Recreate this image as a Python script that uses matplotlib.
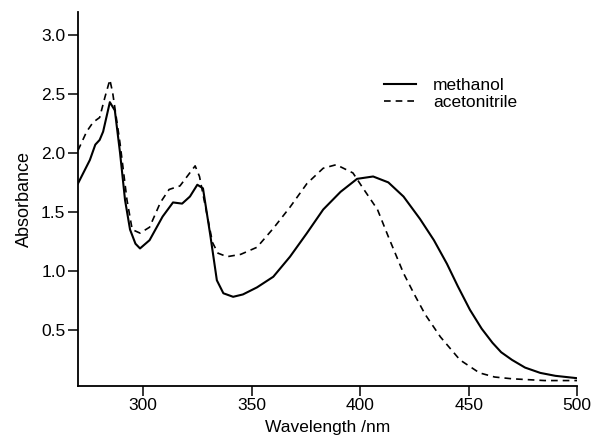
import numpy as np
import matplotlib.pyplot as plt

plt.rcParams['font.family'] = ['Liberation Sans', 'DejaVu Sans']

# methanol spectrum
wl_meoh = [270, 275.5, 278, 280, 281.6, 284.7, 287, 289.4, 291.7, 294, 296.5, 298.6,
           303, 309, 313.8, 318, 321.6, 325, 327.6, 331, 334, 337, 341.5, 346, 352.5,
           360, 367.7, 375.5, 383, 391, 398.6, 406, 413, 420, 427.6, 434, 440,
           445, 450.6, 456, 461, 465, 470, 476, 483, 490, 500]
abs_meoh = [1.74, 1.94, 2.07, 2.11, 2.18, 2.43, 2.36, 2.0, 1.6, 1.35, 1.23, 1.19,
            1.26, 1.46, 1.58, 1.57, 1.63, 1.73, 1.70, 1.30, 0.92, 0.81, 0.78, 0.80, 0.86,
            0.95, 1.12, 1.32, 1.52, 1.67, 1.78, 1.80, 1.75, 1.63, 1.44, 1.26, 1.06,
            0.87, 0.67, 0.51, 0.39, 0.31, 0.245, 0.18, 0.135, 0.11, 0.09]

# acetonitrile spectrum
wl_mecn = [270, 274, 277, 280, 282.4, 284.7, 286, 289.4, 292.6, 295, 298.6, 303,
           308, 312, 317, 320.7, 324, 326, 329, 332, 334.5, 338.7, 345, 352.5, 360,
           367.7, 375.5, 383, 389, 396.7, 401, 408, 413, 420, 425, 430, 437,
           446, 455, 462, 470, 485, 500]
abs_mecn = [2.02, 2.18, 2.26, 2.30, 2.47, 2.62, 2.51, 2.08, 1.6, 1.35, 1.32, 1.37,
            1.58, 1.69, 1.72, 1.81, 1.89, 1.80, 1.52, 1.24, 1.15, 1.12, 1.14, 1.2, 1.36,
            1.54, 1.74, 1.87, 1.90, 1.83, 1.71, 1.52, 1.29, 0.98, 0.80, 0.63, 0.44,
            0.245, 0.135, 0.10, 0.085, 0.07, 0.07]

fig = plt.figure(figsize=(5.95, 4.42), dpi=100)
ax = fig.add_axes([0.131, 0.127, 0.839, 0.846])

ax.plot(wl_meoh, abs_meoh, color='black', lw=1.5, ls='-', label='methanol')
ax.plot(wl_mecn, abs_mecn, color='black', lw=1.2, ls=(0, (4, 3)), label='acetonitrile')

ax.set_xlim(270, 500)
ax.set_ylim(0.025, 3.195)
ax.set_xticks([300, 350, 400, 450, 500])
ax.set_yticks([0.5, 1.0, 1.5, 2.0, 2.5, 3.0])
ax.set_yticklabels(['0.5', '1.0', '1.5', '2.0', '2.5', '3.0'])

for s in ['top', 'right']:
    ax.spines[s].set_visible(False)
for s in ['left', 'bottom']:
    ax.spines[s].set_linewidth(1.3)
ax.tick_params(direction='out', length=7, width=1.1, labelsize=12.5, pad=2)

ax.set_xlabel('Wavelength /nm', fontsize=12.5, labelpad=5)
ax.set_ylabel('Absorbance', fontsize=13, labelpad=6)

ax.legend(loc='upper left', bbox_to_anchor=(0.6, 0.843), frameon=False,
          fontsize=12.5, handlelength=1.8, handletextpad=1.0, labelspacing=0.12,
          borderaxespad=0)

fig.savefig('out.png', dpi=100)
